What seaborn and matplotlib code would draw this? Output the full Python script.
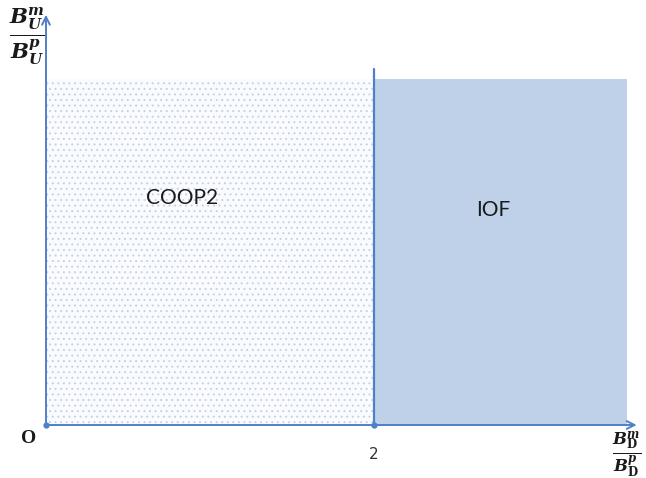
import matplotlib
matplotlib.use("Agg")
import matplotlib.pyplot as plt
import seaborn as sns
import pandas as pd

# Regions of the (B_D^m / B_D^p, B_U^m / B_U^p) plane
regions = ["COOP2", "IOF"]
x_start = [0.0, 2.0]
x_end = [2.0, 3.54]
region_top = [1.0, 1.0]
threshold = 2.0
threshold_top = 1.03
label_pos_x = [0.83, 2.73]
label_pos_y = [0.655, 0.62]

sns.set_theme(style="white")
plt.rcParams["mathtext.fontset"] = "dejavuserif"
plt.rcParams["hatch.linewidth"] = 0.7

fig = plt.figure(figsize=(6.46, 4.78), dpi=100)
ax = fig.add_axes([0, 0, 1, 1])
ax.set_xlim(-46 / 164, 600 / 164)
ax.set_ylim(-53 / 346, 425 / 346)
ax.axis("off")

axis_color = "#4F81C9"

df = pd.DataFrame({"region": regions, "x0": x_start, "x1": x_end, "top": region_top})

# COOP2: dotted pale fill
r = df.iloc[0]
ax.fill_between([r.x0, r.x1], 0, r.top, facecolor="#FAFBFE", edgecolor="#C5D2E6",
                hatch="...", linewidth=0, zorder=1)
# IOF: solid light blue
r = df.iloc[1]
ax.fill_between([r.x0, r.x1], 0, r.top, facecolor="#BFD1E8", edgecolor="none", zorder=1)

# threshold line
line_df = pd.DataFrame({"x": [threshold, threshold], "y": [0.0, threshold_top]})
sns.lineplot(data=line_df, x="x", y="y", estimator=None, sort=False, color=axis_color,
             linewidth=1.6, ax=ax, zorder=3)

# axes with arrows
ax.annotate("", xy=(600 / 164 - 0.04, 0), xytext=(0, 0),
            arrowprops=dict(arrowstyle="->", color=axis_color, lw=1.4,
                            mutation_scale=14), zorder=4)
ax.annotate("", xy=(0, 413 / 346), xytext=(0, 0),
            arrowprops=dict(arrowstyle="->", color=axis_color, lw=1.4,
                            mutation_scale=14), zorder=4)
ax.plot([0, threshold], [0, 0], "o", color=axis_color, markersize=3.5, zorder=5)

# region labels
for name, lx, ly in zip(regions, label_pos_x, label_pos_y):
    ax.text(lx, ly, name, fontsize=15, family="Lato", color="#1a1a1a",
            ha="center", va="center", zorder=6)

# tick / origin labels
ax.text(-0.06, -0.015, "O", fontsize=14, family="Liberation Serif", fontweight="bold",
        ha="right", va="top", color="#1a1a1a")
ax.text(threshold, -0.065, "2", fontsize=11, family="DejaVu Sans",
        ha="center", va="top", color="#333333")

# axis labels as fractions
ax.text(-18 / 164, 389 / 346,
        r"$\frac{\boldsymbol{B}_{\boldsymbol{U}}^{\boldsymbol{m}}}{\boldsymbol{B}_{\boldsymbol{U}}^{\boldsymbol{p}}}$",
        fontsize=22, ha="center", va="center", color="#1a1a1a")
ax.text((627 - 46) / 164, -29 / 346,
        r"$\frac{\boldsymbol{B}_{\mathbf{D}}^{\boldsymbol{m}}}{\boldsymbol{B}_{\mathbf{D}}^{\boldsymbol{p}}}$",
        fontsize=17, ha="center", va="center", color="#1a1a1a")

fig.savefig("out.png", dpi=100)
